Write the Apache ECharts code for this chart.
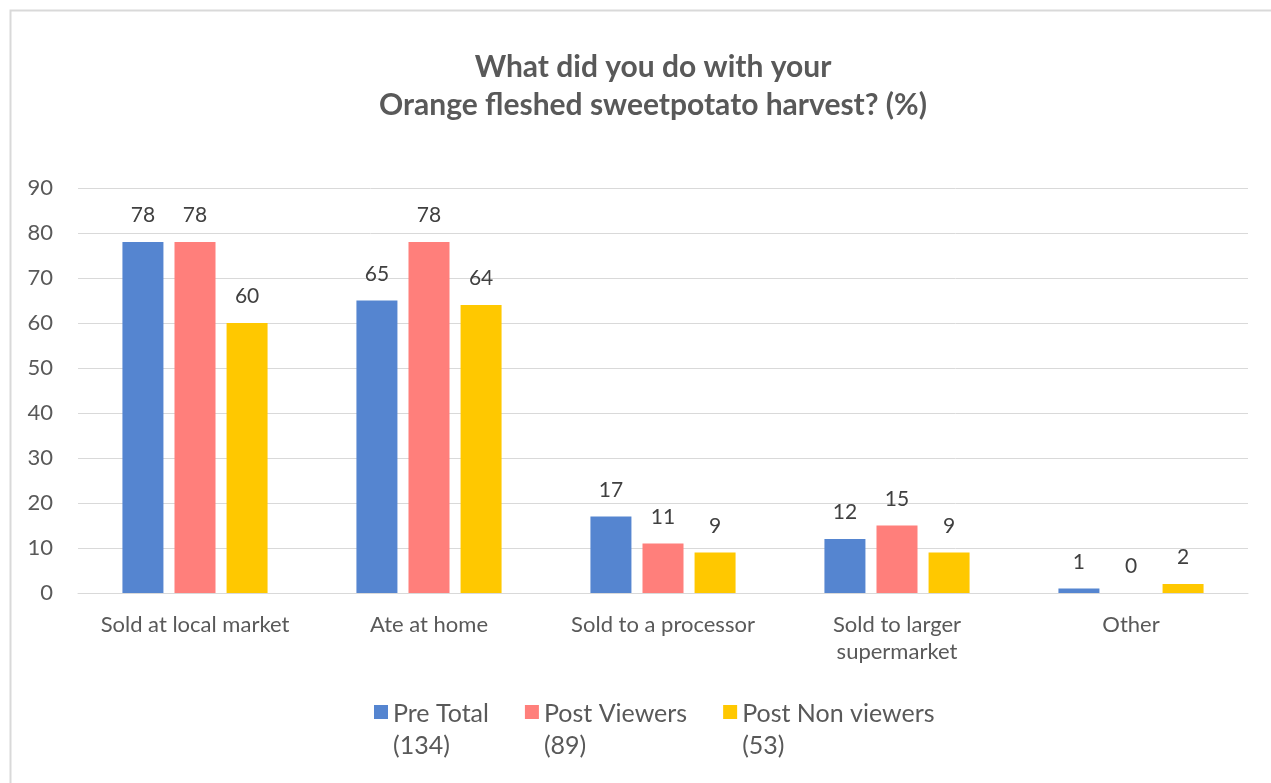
<!DOCTYPE html>
<html>
<head>
<meta charset="utf-8">
<title>Orange fleshed sweetpotato harvest</title>
<script src="https://cdn.jsdelivr.net/npm/echarts@6/dist/echarts.min.js"></script>
<style>
  html, body { margin: 0; padding: 0; background: #fff; }
  #chart { width: 1271px; height: 783px; }
</style>
</head>
<body>
<div id="chart"></div>
<script>
// Survey answers: share of respondents per use of the harvest (%)
const categories = ['Sold at local market', 'Ate at home', 'Sold to a processor', 'Sold to larger\nsupermarket', 'Other'];
const preTotal = [78, 65, 17, 12, 1];
const postViewers = [78, 78, 11, 15, 0];
const postNonViewers = [60, 64, 9, 9, 2];
const seriesNames = ['Pre Total\n(134)', 'Post Viewers\n(89)', 'Post Non viewers\n(53)'];
const yTicks = [0, 10, 20, 30, 40, 50, 60, 70, 80, 90];

const FONT = 'Lato, "Open Sans", sans-serif';
const colors = ['#5585D0', '#FF7F7B', '#FFC800'];

const chart = echarts.init(document.getElementById('chart'), null, { renderer: 'canvas' });

function barSeries(name, data, color) {
  return {
    name: name,
    type: 'bar',
    data: data,
    barWidth: 41,
    barGap: '27%',
    itemStyle: { color: color },
    label: {
      show: true,
      position: 'top',
      distance: 16,
      color: '#404040',
      fontFamily: FONT,
      fontSize: 21
    },
    emphasis: { disabled: true }
  };
}

chart.setOption({
  animation: false,
  textStyle: { fontFamily: FONT },
  graphic: [{
    type: 'rect',
    silent: true,
    shape: { x: 10.5, y: 10.5, width: 1400, height: 900 },
    style: { fill: 'none', stroke: '#D9D9D9', lineWidth: 2 },
    z: -1
  }],
  title: {
    text: 'What did you do with your\nOrange fleshed sweetpotato harvest? (%)',
    left: 648,
    top: 43,
    textAlign: 'center',
    textStyle: {
      color: '#595959',
      fontFamily: FONT,
      fontWeight: 'bold',
      fontSize: 30,
      lineHeight: 38
    }
  },
  legend: {
    left: 374,
    top: 698,
    padding: 0,
    itemGap: 36,
    itemWidth: 14,
    itemHeight: 50,
    // square sits at the top of the icon box so it lines up with the first text line
    icon: 'path://M0,0h14v14h-14zM0,50l0,0',
    textStyle: {
      color: '#595959',
      fontFamily: FONT,
      fontSize: 25,
      lineHeight: 32
    },
    data: seriesNames
  },
  grid: {
    left: 78,
    right: 23,
    top: 188,
    bottom: 190,
    containLabel: false
  },
  xAxis: {
    type: 'category',
    data: categories,
    axisLine: { show: true, lineStyle: { color: '#D9D9D9', width: 1 } },
    axisTick: { show: false },
    axisLabel: {
      color: '#595959',
      fontFamily: FONT,
      fontSize: 22,
      lineHeight: 27,
      margin: 18,
      interval: 0
    }
  },
  yAxis: {
    type: 'value',
    min: yTicks[0],
    max: yTicks[yTicks.length - 1],
    interval: 10,
    axisLine: { show: false },
    axisTick: { show: false },
    splitLine: { lineStyle: { color: '#D9D9D9', width: 1 } },
    axisLabel: {
      color: '#595959',
      fontFamily: FONT,
      fontSize: 22,
      margin: 25
    }
  },
  series: [
    barSeries(seriesNames[0], preTotal, colors[0]),
    barSeries(seriesNames[1], postViewers, colors[1]),
    barSeries(seriesNames[2], postNonViewers, colors[2])
  ]
});
</script>
</body>
</html>
